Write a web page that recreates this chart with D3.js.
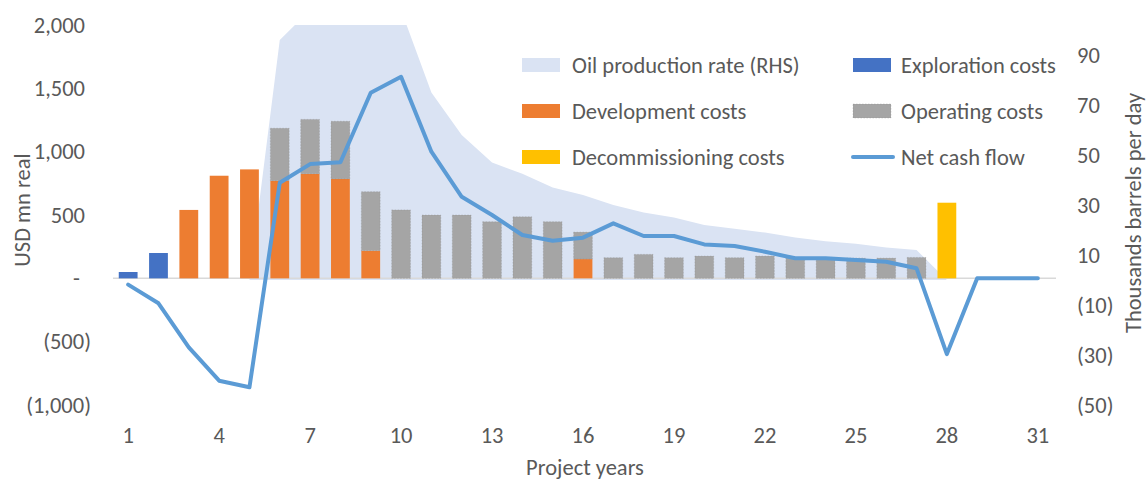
<!DOCTYPE html>
<html>
<head>
<meta charset="utf-8">
<script src="https://cdn.jsdelivr.net/npm/d3@7"></script>
<style>
	body { margin: 0; background: #fff; }
	svg text { font-family: Carlito, Lato, "Liberation Sans", sans-serif; fill: #595959; }
</style>
</head>
<body>
<script>

var width = 1148, height = 481;

// project years 1..31
var years = d3.range(1, 32);

// USD mn real (LHS)
var exploration     = [50, 200, 0, 0, 0, 0, 0, 0, 0, 0, 0, 0, 0, 0, 0, 0, 0, 0, 0, 0, 0, 0, 0, 0, 0, 0, 0, 0, 0, 0, 0];
var development     = [0, 0, 540, 810, 860, 770, 825, 785, 218, 0, 0, 0, 0, 0, 0, 152, 0, 0, 0, 0, 0, 0, 0, 0, 0, 0, 0, 0, 0, 0, 0];
var operating       = [0, 0, 0, 0, 0, 415, 430, 455, 466, 540, 500, 500, 447, 486, 447, 213, 163, 189, 163, 176, 163, 176, 165, 165, 160, 160, 165, 0, 0, 0, 0];
var decommissioning = [0, 0, 0, 0, 0, 0, 0, 0, 0, 0, 0, 0, 0, 0, 0, 0, 0, 0, 0, 0, 0, 0, 0, 0, 0, 0, 0, 597, 0, 0, 0];
var netCashFlow     = [-50, -197, -545, -808, -860, 755, 902, 916, 1465, 1591, 1000, 644, 500, 342, 297, 321, 434, 334, 334, 268, 255, 210, 158, 158, 144, 131, 79, -598, 0, 0, 0];

// thousand barrels per day (RHS)
var oilProduction   = [0, 0, 0, 0, 0, 96, 108, 112, 112, 108, 75, 58, 47, 42.5, 37, 34, 30, 27, 25, 22, 20.5, 19, 17, 15.5, 14.5, 13, 12, 0, 0, 0, 0];

var leftTicks  = [-1000, -500, 0, 500, 1000, 1500, 2000];
var rightTicks = [-50, -30, -10, 10, 30, 50, 70, 90];
var xTicks     = [1, 4, 7, 10, 13, 16, 19, 22, 25, 28, 31];

var costKeys   = ["exploration", "development", "operating", "decommissioning"];
var costColors = {exploration: "#4472c4", development: "#ed7d31", operating: "#a5a5a5", decommissioning: "#ffc000"};
var areaColor  = "#dae3f3";
var lineColor  = "#5b9bd5";

var legendLabels = ["Oil production rate (RHS)", "Exploration costs", "Development costs", "Operating costs", "Decommissioning costs", "Net cash flow"];
var legendKinds  = ["area", "exploration", "development", "operating", "decommissioning", "line"];

var plot = {left: 113, right: 1053, top: 25, bottom: 405};
var fontSize = "22.5px";

var svg = d3.select("body").append("svg").attr("width", width).attr("height", height);

var x = d3.scaleBand().domain(years).range([plot.left, plot.right]).paddingInner(0.38).paddingOuter(0.19);
var yLeft = d3.scaleLinear().domain([-1000, 2000]).range([plot.bottom, plot.top]);
var yRight = d3.scaleLinear().domain([-50, 102]).range([plot.bottom, plot.top]);

function cx(year){ return x(year) + x.bandwidth() / 2; }

svg.append("clipPath").attr("id", "plotClip")
	.append("rect")
	.attr("x", plot.left).attr("y", plot.top)
	.attr("width", plot.right - plot.left).attr("height", plot.bottom - plot.top);

// oil production area (secondary axis)
var prodData = years.map(function(y, i){ return {year: y, value: oilProduction[i]}; });
var area = d3.area()
	.x(function(d){ return cx(d.year); })
	.y0(yRight(0))
	.y1(function(d){ return yRight(d.value); });

svg.append("path")
	.datum(prodData)
	.attr("clip-path", "url(#plotClip)")
	.attr("fill", areaColor)
	.attr("d", area);

// category axis line at zero
svg.append("line")
	.attr("x1", plot.left).attr("x2", plot.right + 3)
	.attr("y1", yLeft(0)).attr("y2", yLeft(0))
	.attr("stroke", "#d9d9d9").attr("stroke-width", 1.5);

// stacked cost bars
var rows = years.map(function(y, i){
	return {year: y, exploration: exploration[i], development: development[i], operating: operating[i], decommissioning: decommissioning[i]};
});
var stacked = d3.stack().keys(costKeys)(rows);

svg.append("g").selectAll("g")
	.data(stacked)
	.join("g")
	.attr("fill", function(s){ return costColors[s.key]; })
	.each(function(s){
		d3.select(this).selectAll("rect")
			.data(s.filter(function(d){ return d[1] - d[0] > 0; }))
			.join("rect")
			.attr("x", function(d){ return x(d.data.year); })
			.attr("y", function(d){ return yLeft(d[1]); })
			.attr("width", x.bandwidth())
			.attr("height", function(d){ return yLeft(d[0]) - yLeft(d[1]); })
			.attr("stroke", s.key == "operating" ? "#7f7f7f" : "none")
			.attr("stroke-opacity", 0.45)
			.attr("stroke-width", 0.6)
			.attr("stroke-dasharray", "1.5,1.5");
	});

// net cash flow line
var line = d3.line()
	.x(function(d){ return cx(d.year); })
	.y(function(d){ return yLeft(d.value); });

svg.append("path")
	.datum(years.map(function(y, i){ return {year: y, value: netCashFlow[i]}; }))
	.attr("fill", "none")
	.attr("stroke", lineColor)
	.attr("stroke-width", 4)
	.attr("stroke-linejoin", "round")
	.attr("stroke-linecap", "round")
	.attr("d", line);

// axes
var comma = d3.format(",");
function accounting(v){
	if (v > 0) return comma(v);
	if (v < 0) return "(" + comma(-v) + ")";
	return "-";
}

var leftAxis = svg.append("g")
	.attr("transform", "translate(85,0)")
	.call(d3.axisLeft(yLeft).tickValues(leftTicks).tickSize(0).tickPadding(0).tickFormat(accounting));
leftAxis.select(".domain").remove();
leftAxis.selectAll("text")
	.attr("dx", function(d){ return d < 0 ? 6 : d == 0 ? -5 : 0; });

var rightAxis = svg.append("g")
	.attr("transform", "translate(1077,0)")
	.call(d3.axisRight(yRight).tickValues(rightTicks).tickSize(0).tickPadding(0).tickFormat(accounting));
rightAxis.select(".domain").remove();

var bottomAxis = svg.append("g")
	.attr("transform", "translate(0," + 427 + ")")
	.call(d3.axisBottom(x).tickValues(xTicks).tickSize(0).tickPadding(0));
bottomAxis.select(".domain").remove();

svg.selectAll(".tick text").style("font-size", fontSize).attr("fill", "#595959");

// axis titles
svg.append("text")
	.attr("transform", "translate(30,210) rotate(-90)")
	.attr("text-anchor", "middle")
	.style("font-size", fontSize)
	.text("USD mn real");

svg.append("text")
	.attr("transform", "translate(1141,213) rotate(-90)")
	.attr("text-anchor", "middle")
	.style("font-size", fontSize)
	.text("Thousands barrels per day");

svg.append("text")
	.attr("x", 585).attr("y", 475)
	.attr("text-anchor", "middle")
	.style("font-size", fontSize)
	.text("Project years");

// legend, two columns by three rows
var legend = svg.append("g").selectAll("g")
	.data(legendLabels)
	.join("g")
	.attr("transform", function(d, i){
		return "translate(" + (i % 2 == 0 ? 522 : 853) + "," + (65 + Math.floor(i / 2) * 46) + ")";
	});

legend.each(function(d, i){
	var g = d3.select(this);
	var kind = legendKinds[i];
	if (kind == "line"){
		g.append("line").attr("x1", 0).attr("x2", 40).attr("y1", 0).attr("y2", 0)
			.attr("stroke", lineColor).attr("stroke-width", 4).attr("stroke-linecap", "round");
	}
	else {
		g.append("rect").attr("x", 0).attr("y", -7).attr("width", 38).attr("height", 14)
			.attr("fill", kind == "area" ? areaColor : costColors[kind])
			.attr("stroke", kind == "operating" ? "#7f7f7f" : "none")
			.attr("stroke-opacity", 0.45)
			.attr("stroke-width", 0.6).attr("stroke-dasharray", "1.5,1.5");
	}
	g.append("text")
		.attr("x", i % 2 == 0 ? 50 : 48)
		.attr("y", 0)
		.attr("dy", "0.35em")
		.style("font-size", fontSize)
		.text(d);
});

</script>
</body>
</html>
